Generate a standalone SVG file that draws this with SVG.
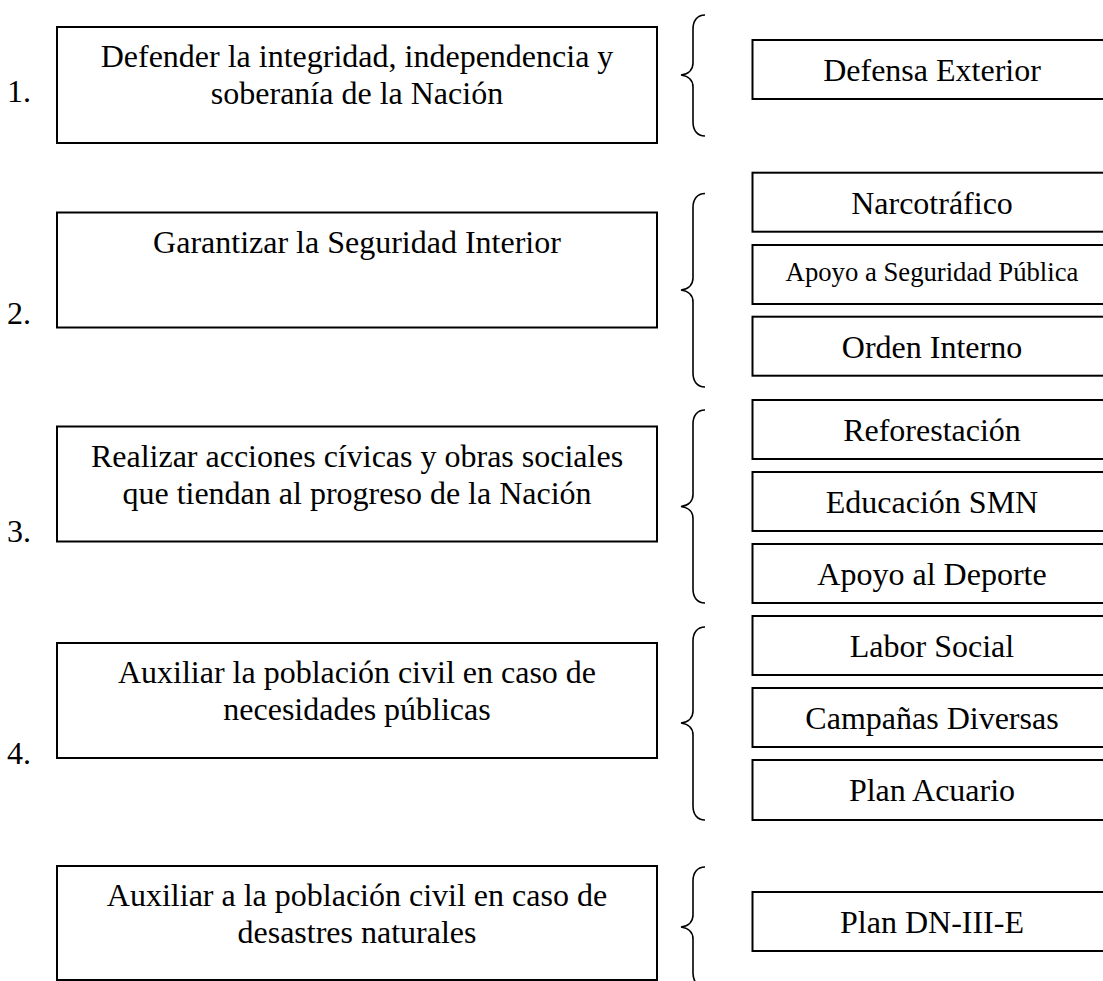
<svg xmlns="http://www.w3.org/2000/svg" width="1103" height="981" viewBox="0 0 1103 981">
<style>
text{font-family:"Liberation Serif","Times New Roman",serif;fill:#000;}
.t{font-size:32px;text-anchor:middle;}
.s{font-size:26.7px;text-anchor:middle;}
.n{font-size:32px;}
.box{fill:#fff;stroke:#000;stroke-width:2;}
.br{fill:none;stroke:#000;stroke-width:1.6;}
</style>
<rect width="1103" height="981" fill="#fff"/>
<g id="numbers">
<text class="n" x="7" y="102">1.</text>
<text class="n" x="7" y="324">2.</text>
<text class="n" x="7" y="542">3.</text>
<text class="n" x="7" y="764">4.</text>
</g>
<g id="obj1"><rect class="box" x="57" y="27" width="600" height="116"/>
<text class="t" x="357" y="67">Defender la integridad, independencia y</text>
<text class="t" x="357" y="104">soberanía de la Nación</text></g>
<g id="obj2"><rect class="box" x="57" y="212.5" width="600" height="115"/>
<text class="t" x="357" y="252.5">Garantizar la Seguridad Interior</text></g>
<g id="obj3"><rect class="box" x="57" y="426.5" width="600" height="115"/>
<text class="t" x="357" y="466.5">Realizar acciones cívicas y obras sociales</text>
<text class="t" x="357" y="503.5">que tiendan al progreso de la Nación</text></g>
<g id="obj4"><rect class="box" x="57" y="643" width="600" height="115"/>
<text class="t" x="357" y="683">Auxiliar la población civil en caso de</text>
<text class="t" x="357" y="720">necesidades públicas</text></g>
<g id="obj5"><rect class="box" x="57" y="866" width="600" height="114"/>
<text class="t" x="357" y="906">Auxiliar a la población civil en caso de</text>
<text class="t" x="357" y="943">desastres naturales</text></g>
<g id="connectors">
<path class="br" d="M705 15 C697 15 693 21 693 29 L693 63 C693 69 689 74 681 75 C689 76 693 81 693 87 L693 122 C693 130 697 136 705 136"/>
<path class="br" d="M705 193.5 C697 193.5 693 199.5 693 207.5 L693 278 C693 284 689 289 681 290 C689 291 693 296 693 302 L693 373 C693 381 697 387 705 387"/>
<path class="br" d="M705 410 C697 410 693 416 693 424 L693 494.5 C693 500.5 689 505.5 681 506.5 C689 507.5 693 512.5 693 518.5 L693 589 C693 597 697 603 705 603"/>
<path class="br" d="M705 627 C697 627 693 633 693 641 L693 711 C693 717 689 722 681 723 C689 724 693 729 693 735 L693 806 C693 814 697 820 705 820"/>
<path class="br" d="M705 867 C697 867 693 873 693 881 L693 915 C693 921 689 926 681 927 C689 928 693 933 693 939 L693 973 C693 981 697 987 705 987"/>
</g>
<g id="r1"><rect class="box" x="752.5" y="40" width="360" height="59"/><text class="t" x="932" y="81">Defensa Exterior</text></g>
<g id="r2"><rect class="box" x="752.5" y="172.7" width="360" height="59"/><text class="t" x="932" y="213.5">Narcotráfico</text></g>
<g id="r3"><rect class="box" x="752.5" y="245" width="360" height="59"/><text class="s" x="932" y="281">Apoyo a Seguridad Pública</text></g>
<g id="r4"><rect class="box" x="752.5" y="316.7" width="360" height="59"/><text class="t" x="932" y="357.5">Orden Interno</text></g>
<g id="r5"><rect class="box" x="752.5" y="400" width="360" height="59"/><text class="t" x="932" y="441">Reforestación</text></g>
<g id="r6"><rect class="box" x="752.5" y="472" width="360" height="59"/><text class="t" x="932" y="513">Educación SMN</text></g>
<g id="r7"><rect class="box" x="752.5" y="544" width="360" height="59"/><text class="t" x="932" y="585">Apoyo al Deporte</text></g>
<g id="r8"><rect class="box" x="752.5" y="616" width="360" height="59"/><text class="t" x="932" y="657">Labor Social</text></g>
<g id="r9"><rect class="box" x="752.5" y="688" width="360" height="59"/><text class="t" x="932" y="729">Campañas Diversas</text></g>
<g id="r10"><rect class="box" x="752.5" y="760" width="360" height="60"/><text class="t" x="932" y="801">Plan Acuario</text></g>
<g id="r11"><rect class="box" x="752.5" y="892" width="360" height="59"/><text class="t" x="932" y="933">Plan DN-III-E</text></g>
</svg>
